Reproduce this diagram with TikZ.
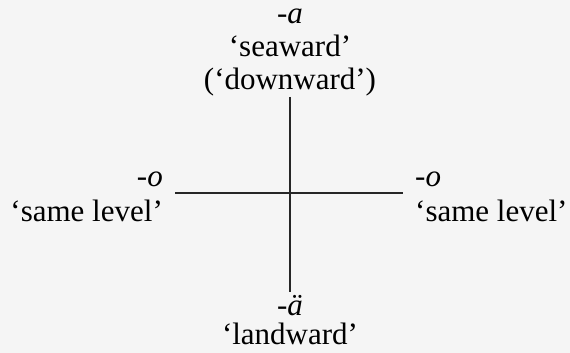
\documentclass[tikz,border=0pt]{standalone}
\usepackage{fontspec}
\setmainfont{Liberation Serif}
\usepackage{tikz}
\usetikzlibrary{positioning}

\begin{document}
\begin{tikzpicture}[
  x=1pt, y=1pt,
  lbl/.style={inner sep=0pt, font=\fontsize{31}{33}\selectfont},
  axis/.style={line width=2.2pt, black!85}
]
  \fill[black!4] (0,0) rectangle (570,353);
  % ends of the cross
  \coordinate (n) at (290,256);
  \coordinate (s) at (290,61);
  \coordinate (w) at (175,160);
  \coordinate (e) at (403,160);
  \draw[axis] (n) -- (s);
  \draw[axis] (w) -- (e);
  \node[lbl, align=center, anchor=south] (sea) at ([yshift=1pt]n) {\textit{-a}\\`seaward'\\(`downward')};
  \node[lbl, align=center, anchor=north] (land) at ([yshift=-3pt]s) {\textit{-ä}\\[-4pt]`landward'};
  \node[lbl, align=right, anchor=north east] (lvl1) at ([shift={(-12,21)}]w) {\textit{-o}\\[2pt]`same level'};
  \node[lbl, align=left, anchor=north west] (lvl2) at ([shift={(12,21)}]e) {\textit{-o}\\[2pt]`same level'};
\end{tikzpicture}
\end{document}
